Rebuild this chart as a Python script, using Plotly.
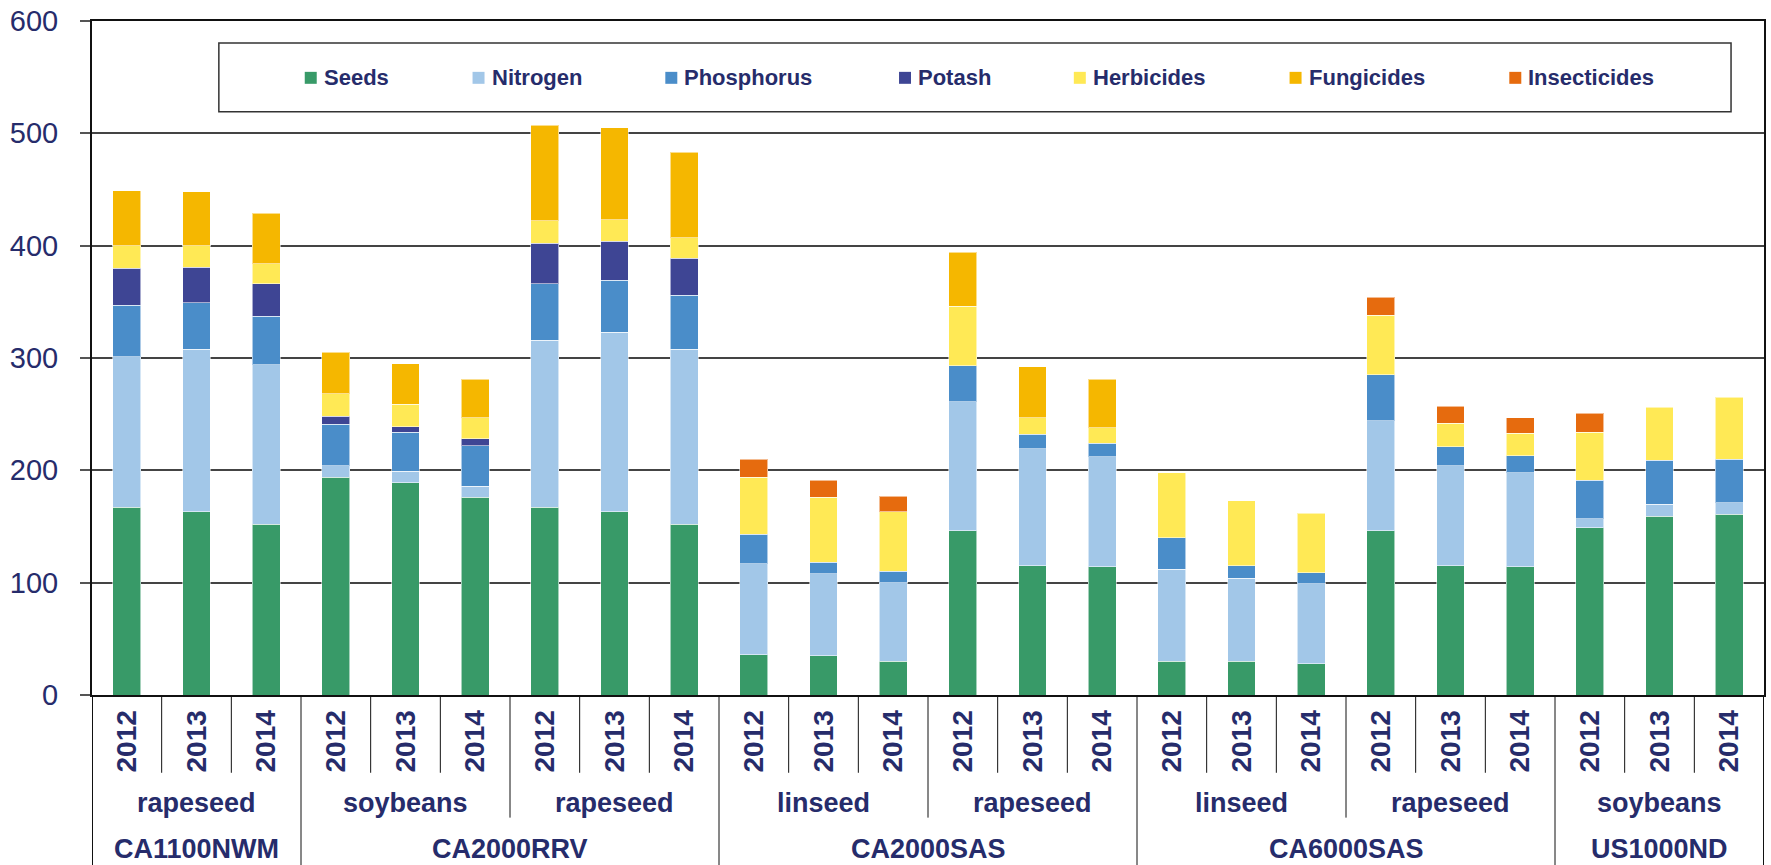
import plotly.graph_objects as go

# ---------------- data ----------------
years = ["2012", "2013", "2014"] * 8
crop_groups = ["rapeseed", "soybeans", "rapeseed", "linseed", "rapeseed", "linseed", "rapeseed", "soybeans"]
crop_sizes = [3, 3, 3, 3, 3, 3, 3, 3]
stations = ["CA1100NWM", "CA2000RRV", "CA2000SAS", "CA6000SAS", "US1000ND"]
station_sizes = [3, 6, 6, 6, 3]

seeds = [167, 163, 152, 194, 189, 176, 167, 163, 152, 36, 35, 30, 146, 115, 114, 30, 30, 28, 146, 115, 114, 149, 159, 161]
nitrogen = [134, 145, 142, 10, 10, 10, 149, 160, 156, 81, 73, 70, 115, 104, 98, 82, 74, 71, 98, 89, 84, 8, 11, 10]
phosphorus = [46, 41, 43, 37, 35, 36, 50, 46, 48, 26, 10, 10, 32, 13, 12, 28, 11, 10, 41, 17, 15, 34, 39, 39]
potash = [33, 32, 29, 7, 5, 6, 36, 35, 33, 0, 0, 0, 0, 0, 0, 0, 0, 0, 0, 0, 0, 0, 0, 0]
herbicides = [20, 19, 18, 20, 20, 19, 20, 19, 18, 51, 58, 53, 53, 15, 14, 58, 58, 53, 53, 21, 20, 43, 47, 55]
fungicides = [49, 48, 45, 37, 36, 34, 85, 82, 76, 0, 0, 0, 48, 45, 43, 0, 0, 0, 0, 0, 0, 0, 0, 0]
insecticides = [0, 0, 0, 0, 0, 0, 0, 0, 0, 16, 15, 14, 0, 0, 0, 0, 0, 0, 16, 15, 14, 17, 0, 0]

series_names = ["Seeds", "Nitrogen", "Phosphorus", "Potash", "Herbicides", "Fungicides", "Insecticides"]
series_values = [seeds, nitrogen, phosphorus, potash, herbicides, fungicides, insecticides]
series_colors = ["#389A68", "#A2C7E8", "#4A8DC9", "#3E4594", "#FFE955", "#F5B700", "#E66B0E"]

# ---------------- styling constants ----------------
W, H = 1771, 865
L, R, T, B = 92, 5, 19, 170
PW, PH = W - L - R, H - T - B
NAVY = "#262C6B"
FONT = "Liberation Sans, Arial, sans-serif"


def px_x(px):
    return (px - L) / PW


def px_y(py):
    return (H - B - py) / PH


xs = list(range(len(years)))

fig = go.Figure()
for name, vals, col in zip(series_names, series_values, series_colors):
    fig.add_trace(go.Bar(
        x=xs, y=[v if v else None for v in vals], name=name,
        marker=dict(color=col, line=dict(color="rgba(255,255,255,0.55)", width=1)),
        width=0.4, showlegend=False,
    ))

shapes = []
annotations = []


def vline(xv, ybottom, width=1):
    shapes.append(dict(type="line", xref="x", yref="paper", x0=xv, x1=xv, y0=0, y1=ybottom,
                       line=dict(color="#111", width=width)))


y_year = px_y(773)
y_crop = px_y(818)
y_station = px_y(H + 5)

pos = 0
for size in crop_sizes:
    for k in range(1, size):
        vline(pos + k - 0.5, y_year)
    pos += size
station_bounds = []
p = 0
for s in station_sizes:
    p += s
    station_bounds.append(p)
p = 0
for size in crop_sizes[:-1]:
    p += size
    if p in station_bounds:
        vline(p - 0.5, y_station)
    else:
        vline(p - 0.5, y_crop)
vline(-0.5, y_station, 2)
vline(len(years) - 0.5, y_station, 2)

p = 0
for name, size in zip(crop_groups, crop_sizes):
    annotations.append(dict(x=p + (size - 1) / 2, y=px_y(803), xref="x", yref="paper", text=name,
                            showarrow=False, yanchor="middle",
                            font=dict(family=FONT, size=27, color=NAVY, weight="bold")))
    p += size
p = 0
for name, size in zip(stations, station_sizes):
    annotations.append(dict(x=p + (size - 1) / 2, y=px_y(849), xref="x", yref="paper", text=name,
                            showarrow=False, yanchor="middle",
                            font=dict(family=FONT, size=27, color=NAVY, weight="bold")))
    p += size

shapes.append(dict(type="rect", xref="paper", yref="paper", x0=px_x(219), x1=px_x(1733),
                   y0=px_y(110), y1=px_y(41), line=dict(color="#333", width=1.5),
                   fillcolor="white", layer="above"))
legend_left = [305, 473, 666, 900, 1075, 1291, 1511]
for name, col, lx in zip(series_names, series_colors, legend_left):
    shapes.append(dict(type="rect", xref="paper", yref="paper", x0=px_x(lx), x1=px_x(lx + 12),
                       y0=px_y(82), y1=px_y(70), line=dict(width=0), fillcolor=col, layer="above"))
    annotations.append(dict(x=px_x(lx + 17), y=px_y(76), xref="paper", yref="paper", text=name,
                            showarrow=False, xanchor="left", yanchor="middle",
                            font=dict(family=FONT, size=22, color=NAVY, weight="bold")))

fig.update_layout(
    width=W, height=H,
    margin=dict(l=L, r=R, t=T, b=B, pad=0),
    paper_bgcolor="white", plot_bgcolor="white",
    barmode="stack",
    shapes=shapes, annotations=annotations,
    showlegend=False,
)
fig.update_xaxes(
    range=[-0.5, len(years) - 0.5], tickmode="array", tickvals=xs, ticktext=years,
    tickangle=-90, ticks="", showgrid=False, zeroline=False,
    showline=True, linecolor="#111", linewidth=2, mirror=True,
    tickfont=dict(family=FONT, size=28, color=NAVY, weight="bold"),
    ticklabelstandoff=2,
)
fig.update_yaxes(
    range=[0, 600], dtick=100, tick0=0,
    showgrid=True, gridcolor="#444", gridwidth=1.5, zeroline=False,
    ticks="outside", ticklen=10, tickcolor="#555", tickwidth=1.5,
    showline=True, linecolor="#111", linewidth=2, mirror=True,
    tickfont=dict(family=FONT, size=29, color=NAVY),
    ticklabelstandoff=16,
)

fig.write_html("out.html", config={"displayModeBar": False},
               post_script="document.body.style.margin='0';document.body.style.overflow='hidden';")
